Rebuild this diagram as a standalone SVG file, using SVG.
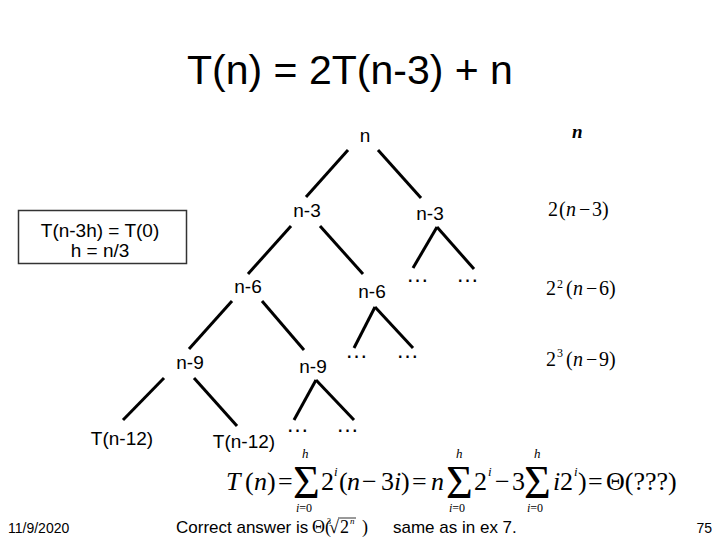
<svg xmlns="http://www.w3.org/2000/svg" width="720" height="540" viewBox="0 0 720 540">
<style>
.s{font-family:"Liberation Sans",Arial,sans-serif;fill:#000}
.lbl{font-size:19px;text-anchor:middle}
.dots{font-family:"Liberation Sans",Arial,sans-serif;font-size:23px}
.m{font-family:"Liberation Serif","Times New Roman",serif;fill:#000}
.mi{font-style:italic}
.big{font-size:26px}
.sig{font-size:46px}
.lim{font-size:12px}
.sup{font-size:13px;font-style:italic}
.edge{stroke:#000;stroke-width:3;stroke-linecap:butt;fill:none}
</style>
<rect width="720" height="540" fill="#fff"/>
<text id="title" class="s" x="350" y="84" font-size="41" text-anchor="middle">T(n) = 2T(n-3) + n</text>

<g id="connectors">
<line class="edge" x1="348" y1="150" x2="306" y2="197"/>
<line class="edge" x1="378" y1="150" x2="421" y2="198"/>
<line class="edge" x1="291" y1="226" x2="248" y2="274"/>
<line class="edge" x1="320" y1="226" x2="363" y2="274"/>
<line class="edge" x1="437" y1="227" x2="413" y2="268"/>
<line class="edge" x1="437" y1="227" x2="474" y2="269"/>
<line class="edge" x1="232" y1="301" x2="189" y2="349"/>
<line class="edge" x1="262" y1="301" x2="304" y2="350"/>
<line class="edge" x1="375" y1="307" x2="354" y2="348"/>
<line class="edge" x1="375" y1="307" x2="413" y2="348"/>
<line class="edge" x1="164" y1="378" x2="123" y2="420"/>
<line class="edge" x1="194" y1="378" x2="237" y2="426"/>
<line class="edge" x1="316" y1="380" x2="294" y2="420"/>
<line class="edge" x1="316" y1="380" x2="354" y2="420"/>
</g>

<g id="node-n"><text class="s lbl" x="365" y="142">n</text></g>
<g id="node-n3a"><text class="s lbl" x="307" y="217">n-3</text></g>
<g id="node-n3b"><text class="s lbl" x="430" y="220">n-3</text></g>
<g id="node-n6a"><text class="s lbl" x="248" y="293">n-6</text></g>
<g id="node-n6b"><text class="s lbl" x="372" y="298">n-6</text></g>
<g id="node-n9a"><text class="s lbl" x="190" y="369">n-9</text></g>
<g id="node-n9b"><text class="s lbl" x="313" y="373">n-9</text></g>
<g id="node-t12a"><text class="s lbl" x="122" y="445">T(n-12)</text></g>
<g id="node-t12b"><text class="s lbl" x="244" y="448">T(n-12)</text></g>

<g id="ellipses">
<text class="dots" x="406" y="282">…</text>
<text class="dots" x="456" y="282">…</text>
<text class="dots" x="345" y="358">…</text>
<text class="dots" x="396" y="358">…</text>
<text class="dots" x="286" y="432">…</text>
<text class="dots" x="336" y="432">…</text>
</g>

<g id="box">
<rect x="18.5" y="210.5" width="168" height="53" fill="#fff" stroke="#333" stroke-width="1.5"/>
<text class="s" x="100" y="237" font-size="19" text-anchor="middle">T(n-3h) = T(0)</text>
<text class="s" x="100" y="257" font-size="19" text-anchor="middle">h = n/3</text>
</g>

<g id="level-costs" class="m" font-size="20">
<text x="572" y="138" font-size="19" font-weight="bold" font-style="italic">n</text>
<text y="216"><tspan x="548">2</tspan><tspan x="559">(</tspan><tspan class="mi" x="566">n</tspan><tspan x="579">−</tspan><tspan x="592">3</tspan><tspan x="602">)</tspan></text>
<text y="295"><tspan x="546">2</tspan></text>
<text x="557" y="288" font-size="12">2</text>
<text y="295"><tspan x="566">(</tspan><tspan class="mi" x="573">n</tspan><tspan x="586">−</tspan><tspan x="599">6</tspan><tspan x="609">)</tspan></text>
<text y="366"><tspan x="546">2</tspan></text>
<text x="557" y="357" font-size="12">3</text>
<text y="366"><tspan x="566">(</tspan><tspan class="mi" x="573">n</tspan><tspan x="586">−</tspan><tspan x="599">9</tspan><tspan x="609">)</tspan></text>
</g>

<g id="sum-formula" class="m">
<text class="big" y="490"><tspan class="mi" x="226">T</tspan><tspan x="245">(</tspan><tspan class="mi" x="254">n</tspan><tspan x="267">)</tspan><tspan x="278">=</tspan></text>
<text class="sig" x="293" y="498">Σ</text>
<text class="sup" x="302" y="458">h</text>
<text class="lim" x="296" y="512"><tspan class="mi">i</tspan>=0</text>
<text class="big" x="321" y="490">2</text>
<text class="sup" x="334" y="476">i</text>
<text class="big" y="490"><tspan x="339">(</tspan><tspan class="mi" x="347">n</tspan><tspan x="362">−</tspan><tspan x="381">3</tspan><tspan class="mi" x="394">i</tspan><tspan x="401">)</tspan><tspan x="412">=</tspan><tspan class="mi" x="431">n</tspan></text>
<text class="sig" x="446" y="498">Σ</text>
<text class="sup" x="456" y="458">h</text>
<text class="lim" x="449" y="512"><tspan class="mi">i</tspan>=0</text>
<text class="big" x="474" y="490">2</text>
<text class="sup" x="488" y="476">i</text>
<text class="big" y="490"><tspan x="495">−</tspan><tspan x="512">3</tspan></text>
<text class="sig" x="524" y="498">Σ</text>
<text class="sup" x="534" y="458">h</text>
<text class="lim" x="527" y="512"><tspan class="mi">i</tspan>=0</text>
<text class="big" y="490"><tspan class="mi" x="553">i</tspan><tspan x="560">2</tspan></text>
<text class="sup" x="574" y="476">i</text>
<text class="big" y="490"><tspan x="578">)</tspan><tspan x="588">=</tspan><tspan x="606">Θ(???)</tspan></text>
</g>

<g id="answer">
<text class="s" x="176" y="533" font-size="17">Correct answer is</text>
<text class="m" x="312" y="533" font-size="18">Θ(</text>
<text class="m" x="327" y="524" font-size="8">3</text>
<text class="m" x="329" y="533" font-size="18">√</text>
<line x1="338" y1="518" x2="356" y2="518" stroke="#000" stroke-width="0.8"/>
<text class="m" x="340" y="533" font-size="18">2</text>
<text class="m mi" x="350" y="524" font-size="9">n</text>
<text class="m" x="362" y="533" font-size="18">)</text>
<text class="s" x="393" y="533" font-size="17">same as in ex 7.</text>
</g>

<text id="date" class="s" x="8" y="533" font-size="14">11/9/2020</text>
<text id="page" class="s" x="712" y="533" font-size="14" text-anchor="end">75</text>
</svg>
